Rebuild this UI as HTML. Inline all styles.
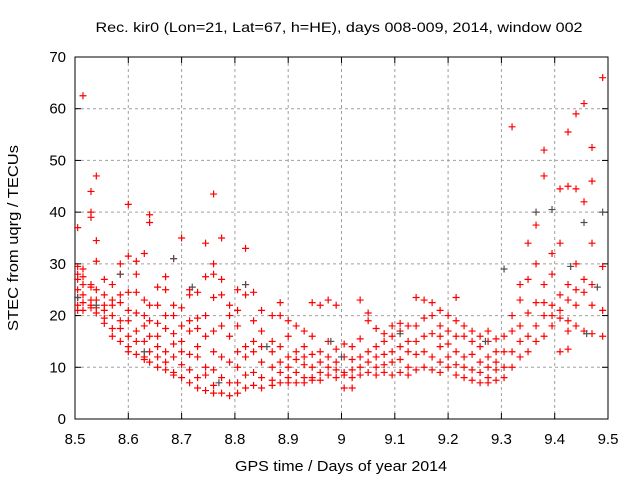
<!DOCTYPE html>
<html><head><meta charset="utf-8"><style>
body{margin:0;background:#fff;}
svg{display:block;font-family:"Liberation Sans",sans-serif;}
</style></head><body>
<svg id="chart" width="640" height="480">
<text x="339" y="32" font-size="14" text-anchor="middle" textLength="487" lengthAdjust="spacingAndGlyphs">Rec. kir0 (Lon=21, Lat=67, h=HE), days 008-009, 2014, window 002</text>
<text x="341" y="471" font-size="15" text-anchor="middle" textLength="212" lengthAdjust="spacingAndGlyphs">GPS time / Days of year 2014</text>
<text transform="translate(18,238) rotate(-90)" font-size="15" text-anchor="middle" textLength="186" lengthAdjust="spacingAndGlyphs">STEC from uqrg / TECUs</text>
<g id="grid"></g>
<g id="axes"></g>
<g id="marks"></g>
</svg>
<script>
const xTicks=[8.5,8.6,8.7,8.8,8.9,9,9.1,9.2,9.3,9.4,9.5];
const xTickLabels=["8.5","8.6","8.7","8.8","8.9","9","9.1","9.2","9.3","9.4","9.5"];
const yTicks=[0,10,20,30,40,50,60,70];
const yTickLabels=["0","10","20","30","40","50","60","70"];
const colX=[8.505,8.515,8.53,8.54,8.555,8.57,8.585,8.6,8.615,8.63,8.64,8.655,8.67,8.685,8.7,8.715,8.73,8.745,8.76,8.775,8.79,8.805,8.82,8.835,8.85,8.87,8.885,8.9,8.915,8.93,8.945,8.96,8.975,8.99,9.005,9.02,9.035,9.05,9.065,9.08,9.095,9.11,9.125,9.14,9.155,9.17,9.185,9.2,9.215,9.23,9.245,9.26,9.275,9.29,9.305,9.32,9.335,9.35,9.365,9.38,9.395,9.41,9.425,9.44,9.455,9.47,9.49];
const colY=[
[37,29.5,28,27,25,23.5,22,21],[62.5,29,27.5,26,24,22.5,21],[44,40,39,26,25.5,23,22,21.5],[47,34.5,30.5,25,23,21.5,20.5],
[27,24,22,21,19.5,18.5],[26,23,22,20,17.5,16],[30,28,24,22.5,19,17.5,15],[41.5,31.5,24.5,21,19,16,14,13],
[30.5,28,24.5,20.5,17,15,12.5],[32,23,20,18,15,12,11.5],[39.5,38,22,19,16,13,11],[25.5,22,18.5,16,14,12,10],
[27.5,25,20,17.5,13,11,9.5],[31,22,20,16.5,14.5,12,9,8.5],[35,21.5,18,15,13,10.5,8],[25,24,19,17,12.5,9.5,7],
[24.5,19.5,17.5,14,12,8,6],[34,27.5,20,16,10,8.5,5.5],[43.5,30,28,23.5,17,13,9.5,6.5,5],[35,27,24,18,12,8,5],
[22,20,16,11,7,4.5],[25,21,18,13,10,7,5],[33,26,24,14,12,8.5,6],[24.5,19,15,13,9,6.5],
[21,17,14,11,8,6],[20,15,13,10,7.5,6.5],[22.5,20,14,11,9,7],[19,16,12,10,8,7],
[18,13,11.5,9,7],[17,14,12,10.5,8,7],[22.5,16,12.5,10,8,7.5],[22,13,11,9,7.5],
[23,15,12,10,8.5],[22,13.5,11,9.5,8],[14.5,12,9,8.5,6],[14,11.5,9.5,8,6],
[23,15.5,12,10,8.5],[20.5,19,13,11,9],[17.5,14,12,10,8.5],[16.5,15,12.5,10.5,9],
[18,16,13,11,8.5],[18.5,17,14,11.5,9],[18,15,13,10,8.5],[23.5,18,15,12.5,9.5],
[23,19.5,16,13,10],[22.5,20,16.5,12,9.5],[21,18,16,14,11,9],[20,17,14.5,12,10],
[23.5,19,16,13,10.5,8.5],[18,16,12,10,8],[17,15,12.5,9.5,7.5],[16,14,11,9,7],
[17,15,12,10,8,7],[15.5,13,11,9.5,7.5],[16,13,10,8],[56.5,20,17,13,10],
[26,23,18,15,12],[34,27,20.5,16,13],[37.5,30,22.5,18,15],[52,47,26,22.5,20,16],
[32,28,22,20,18],[44.5,34,24,21,19.5,13],[55.5,45,26,23,19,17,13.5],[59,44.5,30,25,22,18],
[61,42,27,24.5,17],[52.5,46,34,26,22,16.5],[66,29.5,21,16]];
const grayX=[8.505,8.54,8.585,8.63,8.685,8.72,8.77,8.82,8.86,8.98,9.0,9.11,9.27,9.305,9.365,9.395,9.43,9.455,9.46,9.48,9.49];
const grayY=[23.5,22,28,13,31,25.5,7,26,14,15,12,16.5,15,29,40,40.5,29.5,38,16.5,25.5,40];

const L=75,R=608,T=57,B=419;
const xS=v=>L+(v-8.5)/(1.0)*(R-L);
const yS=v=>B-v/70*(B-T);
const NS="http://www.w3.org/2000/svg";
function mk(tag,attrs,parent){const e=document.createElementNS(NS,tag);for(const k in attrs)e.setAttribute(k,attrs[k]);parent.appendChild(e);return e;}
const grid=document.getElementById('grid'),axes=document.getElementById('axes'),marks=document.getElementById('marks');
xTicks.forEach((t,i)=>{const x=xS(t);
 if(i>0&&i<xTicks.length-1){const g=mk('line',{x1:x,x2:x,y1:T,y2:B,stroke:'#a0a0a0','stroke-dasharray':'3,3'},grid);}
 mk('line',{x1:x,x2:x,y1:B,y2:B-6,stroke:'#000'},axes);mk('line',{x1:x,x2:x,y1:T,y2:T+6,stroke:'#000'},axes);
 const tx=mk('text',{x:x,y:B+25,'font-size':15,'text-anchor':'middle'},axes);tx.textContent=xTickLabels[i];
 });
yTicks.forEach((t,i)=>{const y=yS(t);
 if(i>0&&i<yTicks.length-1){const g=mk('line',{x1:L,x2:R,y1:y,y2:y,stroke:'#a0a0a0','stroke-dasharray':'3,3'},grid);}
 mk('line',{x1:L,x2:L+6,y1:y,y2:y,stroke:'#000'},axes);mk('line',{x1:R,x2:R-6,y1:y,y2:y,stroke:'#000'},axes);
 const tx=mk('text',{x:L-9,y:y+5,'font-size':15,'text-anchor':'end'},axes);tx.textContent=yTickLabels[i];
 });
const fr=mk('rect',{x:L,y:T,width:R-L,height:B-T,fill:'none',stroke:'#000'},axes);

function plus(x,y,c){const p=mk('path',{d:`M${x-3.5},${y}h7M${x},${y-3.5}v7`,stroke:c,'stroke-width':1.2,fill:'none'},marks);return p;}
colX.forEach((x,i)=>{colY[i].forEach(v=>{const p=plus(xS(x),yS(v),'#ff0000');
 
 });});
grayX.forEach((x,i)=>{const p=plus(xS(x),yS(grayY[i]),'#505050');
 
 });
</script>
</body></html>
